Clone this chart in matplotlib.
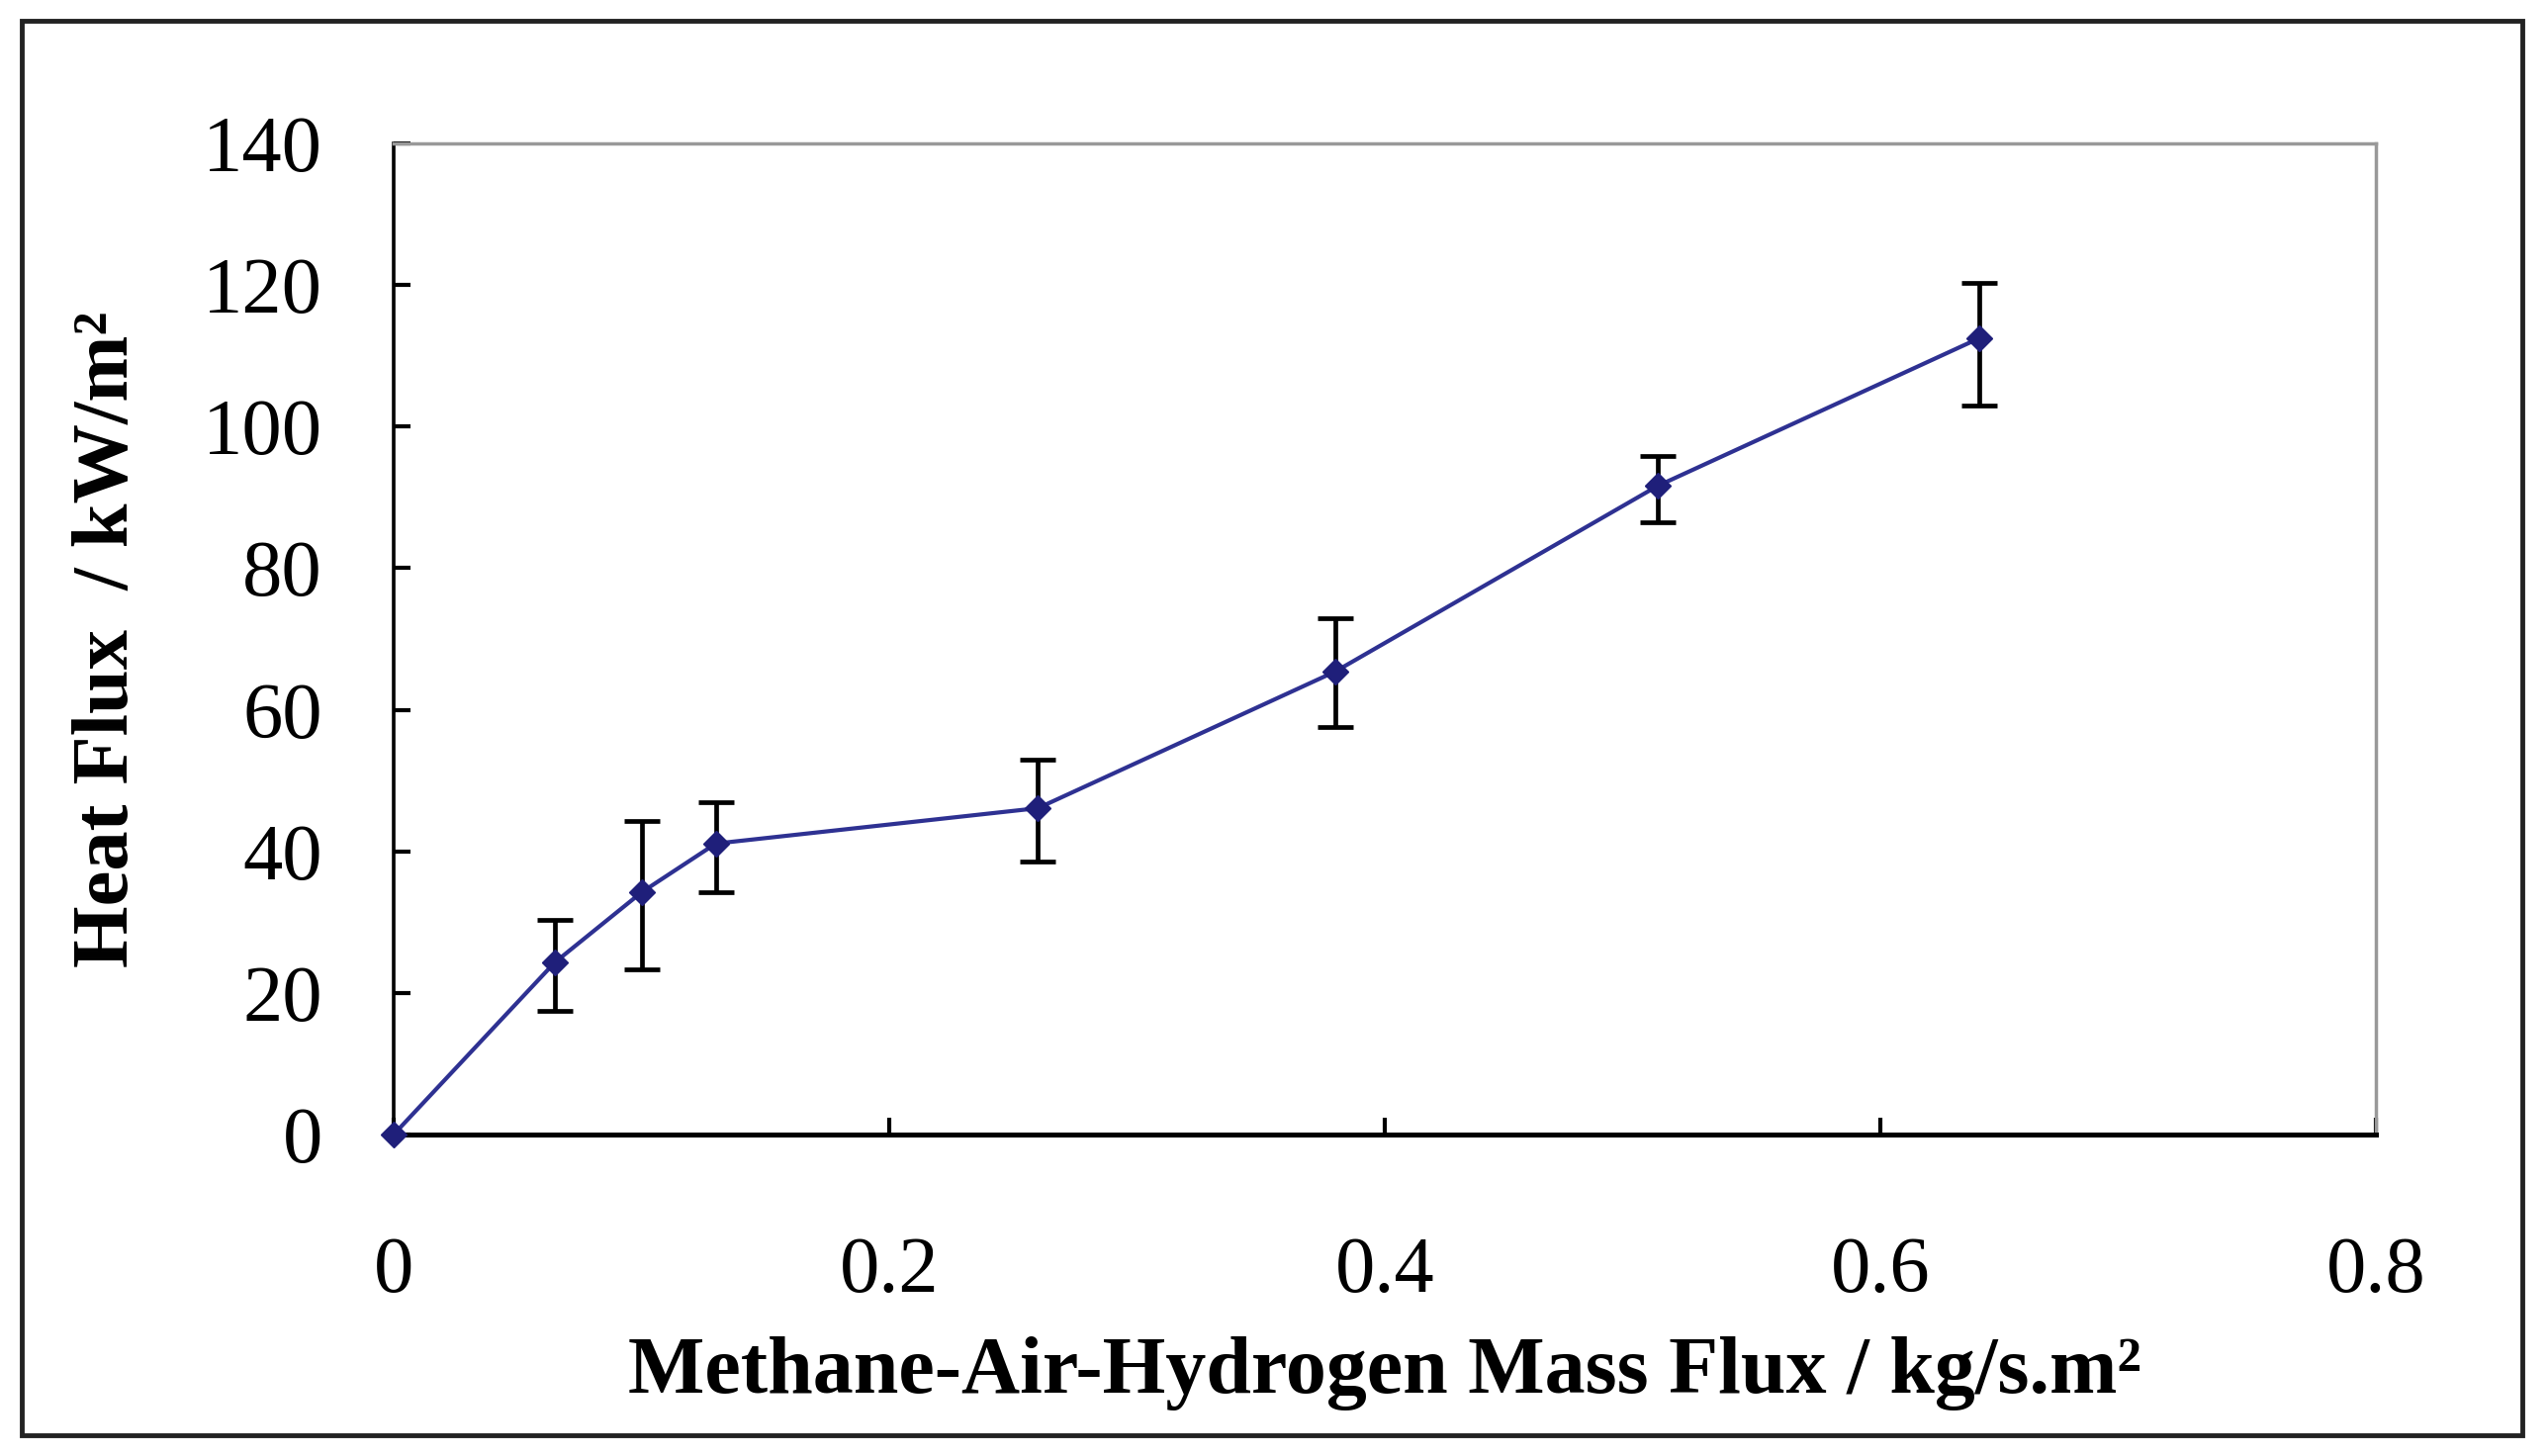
import numpy as np
import matplotlib
matplotlib.use("Agg")
import matplotlib.pyplot as plt
from matplotlib.patches import Rectangle

# data
mass_flux = [0.0, 0.065, 0.10, 0.13, 0.26, 0.38, 0.51, 0.64]
heat_flux = [0.0, 24.3, 34.2, 41.1, 46.1, 65.4, 91.6, 112.5]
err_low = [0.0, 6.9, 10.8, 6.9, 7.5, 7.8, 5.1, 9.5]
err_high = [0.0, 6.0, 10.1, 5.9, 6.9, 7.6, 4.3, 7.8]
xticks = [0, 0.2, 0.4, 0.6, 0.8]
yticks = [0, 20, 40, 60, 80, 100, 120, 140]

plt.rcParams['font.family'] = ['Liberation Serif', 'DejaVu Serif']

fig = plt.figure(figsize=(25.76, 14.72), dpi=100)
ax = fig.add_axes([0.1545, 0.2208, 0.778, 0.6807])

ax.errorbar(mass_flux, heat_flux, yerr=[err_low, err_high], fmt='none',
            ecolor='black', elinewidth=3.4, capsize=13, capthick=3.4, zorder=2)
ax.plot(mass_flux, heat_flux, color='#2E3192', lw=3, marker='D',
        markersize=13, markerfacecolor='#1F1F7A', markeredgecolor='#1F1F7A',
        zorder=3, clip_on=False)

ax.set_xlim(0, 0.8)
ax.set_ylim(0, 140)
ax.set_xticks(xticks)
ax.set_xticklabels(["0", "0.2", "0.4", "0.6", "0.8"])
ax.set_yticks(yticks)
ax.tick_params(axis='both', direction='in', length=12, width=3, labelsize=58)
ax.tick_params(axis='x', pad=74)
ax.tick_params(axis='y', pad=52)

for s in ['top', 'right']:
    ax.spines[s].set_color('#999999')
    ax.spines[s].set_linewidth(2.5)
ax.spines['left'].set_linewidth(2.6)
ax.spines['bottom'].set_linewidth(3.6)

ax.set_xlabel("Methane-Air-Hydrogen Mass Flux / kg/s.m²", fontsize=59,
              fontweight='bold', labelpad=20)
ax.set_ylabel("Heat Flux  / kW/m²", fontsize=58, fontweight='bold', labelpad=42)

# outer frame
fig.patches.append(Rectangle((0.0085, 0.014), 0.9815, 0.972, transform=fig.transFigure,
                             fill=False, edgecolor='#222222', linewidth=3.5))

fig.savefig("out.png", dpi=100)
